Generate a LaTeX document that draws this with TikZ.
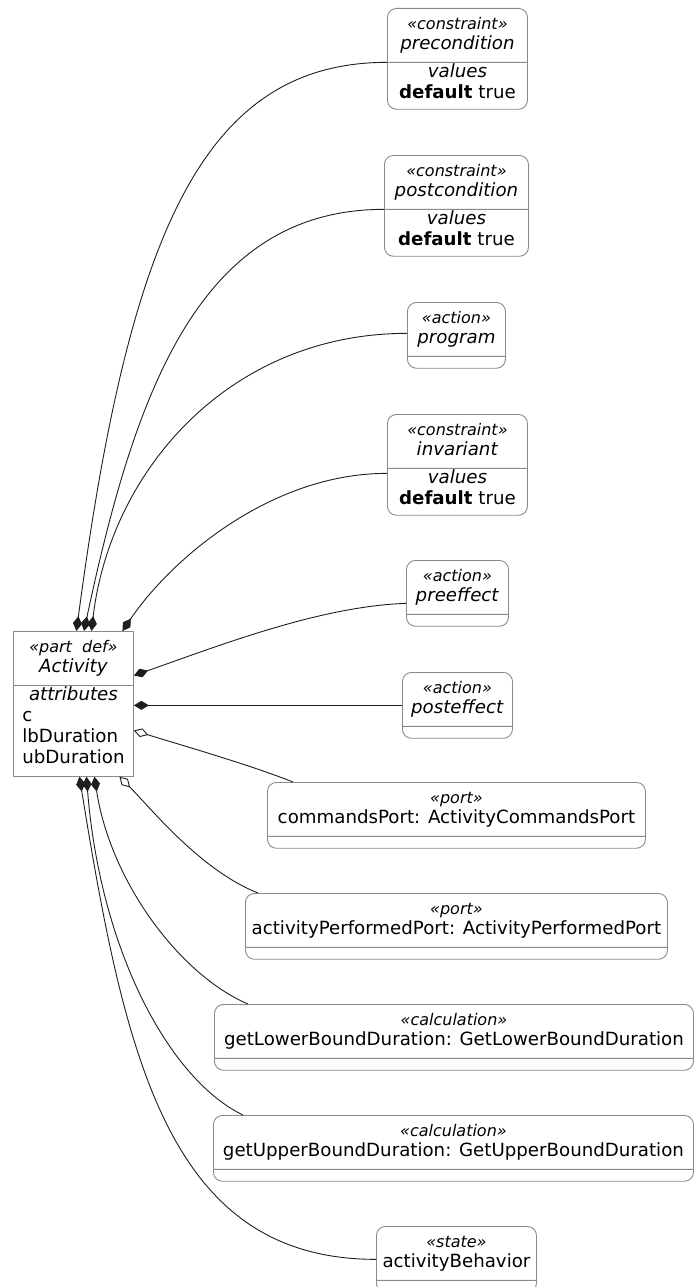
\documentclass[tikz,border=0pt]{standalone}
\usepackage{fontspec}
\setmainfont{DejaVu Sans}
\usetikzlibrary{shapes.multipart,arrows.meta}

\definecolor{boxline}{HTML}{8A8A8A}
\definecolor{edgeline}{HTML}{1E1E1E}

\newcommand{\stfont}{\fontsize{16}{19}\selectfont\itshape}
\newcommand{\umlhead}[2]{%
  \begin{tabular}{@{}c@{}}\rule{0pt}{21pt}{\stfont«#1»}\\[-1pt]#2\rule[-12pt]{0pt}{12pt}\end{tabular}}
\newcommand{\umlvals}{%
  \begin{tabular}{@{}c@{}}\rule{0pt}{15pt}\textit{values}\\\textbf{default} true\rule[-10pt]{0pt}{10pt}\end{tabular}}

\tikzset{
  umlbox/.style={rectangle split, rectangle split parts=2, draw=boxline, line width=0.9pt,
    rounded corners=9pt, anchor=north west, inner xsep=0pt, inner ysep=0pt,
    font=\fontsize{18.2}{21}\selectfont,
    rectangle split empty part height=11pt, rectangle split empty part depth=0pt},
  blockbox/.style={umlbox, rounded corners=0pt},
  compose/.style={{Diamond[length=15pt,width=9pt]}-, draw=edgeline, line width=0.9pt},
  aggregate/.style={{Diamond[length=15pt,width=9pt,fill=white]}-, draw=edgeline, line width=0.9pt}
}

\begin{document}
\begin{tikzpicture}[x=1pt,y=-1pt]
  \useasboundingbox (0,0) rectangle (693,1287);

  \node[blockbox, minimum width=120pt] (activity) at (13,631)
    {\umlhead{part\ \ def}{\textit{Activity}}
     \nodepart{two}\begin{tabular}{@{}l@{}}\multicolumn{1}{@{}c@{}}{\rule{0pt}{15pt}\textit{attributes}}\\
       c\\lbDuration\\ubDuration\rule[-12pt]{0pt}{12pt}\end{tabular}};

  \node[umlbox, minimum width=140pt] (pre) at (387,8)
    {\umlhead{constraint}{\textit{precondition}}\nodepart{two}\umlvals};
  \node[umlbox, minimum width=144pt] (post) at (384,155)
    {\umlhead{constraint}{\textit{postcondition}}\nodepart{two}\umlvals};
  \node[umlbox, minimum width=98pt] (program) at (407,302)
    {\umlhead{action}{\textit{program}}};
  \node[umlbox, minimum width=140pt] (inv) at (387,414)
    {\umlhead{constraint}{\textit{invariant}}\nodepart{two}\umlvals};
  \node[umlbox, minimum width=102pt] (preeff) at (406,560)
    {\umlhead{action}{\textit{preeffect}}};
  \node[umlbox, minimum width=110pt] (posteff) at (402,672)
    {\umlhead{action}{\textit{posteffect}}};
  \node[umlbox, minimum width=378pt] (cmdport) at (267,782)
    {\umlhead{port}{commandsPort: ActivityCommandsPort}};
  \node[umlbox, minimum width=422pt] (perfport) at (245,893)
    {\umlhead{port}{activityPerformedPort: ActivityPerformedPort}};
  \node[umlbox, minimum width=479pt] (lowcalc) at (214,1004)
    {\umlhead{calculation}{getLowerBoundDuration: GetLowerBoundDuration}};
  \node[umlbox, minimum width=480pt] (upcalc) at (213,1115)
    {\umlhead{calculation}{getUpperBoundDuration: GetUpperBoundDuration}};
  \node[umlbox, minimum width=160pt] (behavior) at (376,1226)
    {\umlhead{state}{activityBehavior}};

  \begin{scope}
    \draw[compose] ([xshift=3pt]activity.north) .. controls +(52,-391) and +(-187,0) .. (pre.one split west);
    \draw[compose] ([xshift=10.5pt]activity.north) .. controls +(51.5,-241) and +(-184,0) .. (post.one split west);
    \draw[compose] ([xshift=18pt]activity.north) .. controls +(19,-161) and +(-177,0) .. ([yshift=2pt]program.west);
    \draw[compose] ([xshift=49pt]activity.north) .. controls +(48,-71) and +(-117,0) .. ([yshift=-5pt]inv.one split west);
    \draw[compose] ([yshift=-44.5pt]activity.north east) .. controls +(87,-30.5) and +(-86,3) .. ([yshift=-10pt]preeff.west);
    \draw[compose] (activity.east |- posteff.west) -- (posteff.west);
    \draw[aggregate] ([yshift=-99.5pt]activity.north east) .. controls +(57,17.5) and +(-43,-17) .. ([xshift=26pt]cmdport.north west);
    \draw[aggregate] ([xshift=46pt]activity.south) .. controls +(31,31) and +(-58,-23) .. ([xshift=13pt]perfport.north west);
    \draw[compose] ([xshift=21pt]activity.south) .. controls +(16,105) and +(-68,-29) .. ([xshift=34pt]lowcalc.north west);
    \draw[compose] ([xshift=13pt]activity.south) .. controls +(14,175) and +(-73,-35) .. ([xshift=30pt]upcalc.north west);
    \draw[compose] ([xshift=6pt]activity.south) .. controls +(46,285) and +(-206,0) .. (behavior.west);
  \end{scope}
\end{tikzpicture}
\end{document}
